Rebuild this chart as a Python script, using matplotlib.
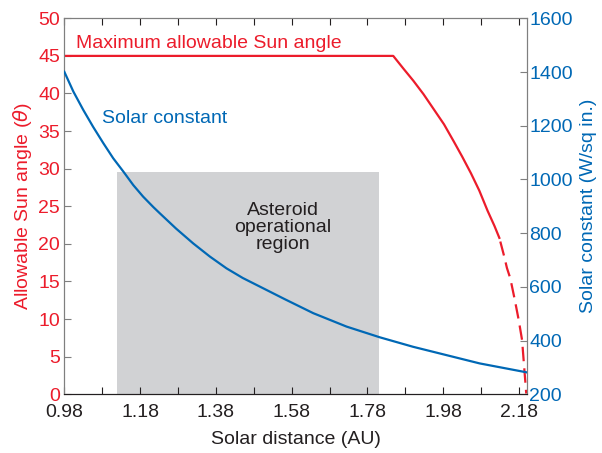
import matplotlib
matplotlib.use('Agg')
import matplotlib.pyplot as plt

plt.rcParams['font.family'] = ['Liberation Sans', 'DejaVu Sans']

RED = '#ec1c2b'
BLUE = '#0068b5'
GRAY_BOX = '#d1d2d4'
TEXT = '#231f20'
SPINE = '#7f7f7f'
FS = 14

# max allowable sun angle (deg), solid part then dashed extrapolation
angle_x_solid = [0.98, 1.848, 1.875, 1.901, 1.928, 1.955, 1.982, 2.008,
                 2.030, 2.053, 2.075, 2.097, 2.115, 2.128]
angle_y_solid = [45.0, 45.0, 43.3, 41.7, 39.9, 37.9, 35.9, 33.6,
                 31.6, 29.4, 27.1, 24.4, 22.4, 20.8]
angle_x_dash = [2.128, 2.141, 2.148, 2.157, 2.169, 2.179, 2.188, 2.192, 2.199]
angle_y_dash = [20.8, 18.3, 16.8, 15.4, 12.5, 9.9, 7.2, 4.6, 0.1]

# solar constant
solar_x = [0.980, 1.004, 1.030, 1.056, 1.083, 1.109, 1.136, 1.162, 1.188,
           1.215, 1.232, 1.275, 1.320, 1.364, 1.408, 1.451, 1.496, 1.562,
           1.637, 1.725, 1.813, 1.900, 1.988, 2.076, 2.199]
solar_y = [1401, 1327, 1259, 1196, 1135, 1079, 1029, 979, 936,
           897, 874, 817, 762, 713, 669, 633, 601, 554,
           502, 452, 412, 377, 346, 315, 282]

region = (1.118, 1.810, 29.5)  # x start, x end, top (left axis)

x_ticks = [0.98, 1.18, 1.38, 1.58, 1.78, 1.98, 2.18]
x_minor = [1.08, 1.28, 1.48, 1.68, 1.88, 2.08]
left_ticks = list(range(0, 51, 5))
right_ticks = list(range(200, 1601, 200))

fig = plt.figure(figsize=(6.02, 4.53), dpi=100)
ax = fig.add_axes([0.1068, 0.1296, 0.768, 0.830])
ax2 = ax.twinx()

ax.axvspan(region[0], region[1], ymin=0, ymax=region[2] / 50,
           color=GRAY_BOX, lw=0, zorder=0)

ax.plot(angle_x_solid, angle_y_solid, color=RED, lw=1.6, zorder=3)
ax.plot(angle_x_dash, angle_y_dash, color=RED, lw=1.6, zorder=3,
        linestyle=(8, (6.5, 3.2)))
ax2.plot(solar_x, solar_y, color=BLUE, lw=1.6, zorder=3)

ax.set_xlim(0.98, 2.20)
ax.set_ylim(0, 50)
ax2.set_ylim(200, 1600)

ax.set_xticks(x_ticks)
ax.set_xticklabels([f'{v:.2f}' for v in x_ticks])
ax.set_xticks(x_minor, minor=True)
ax.set_yticks(left_ticks)
ax2.set_yticks(right_ticks)

ax.tick_params(axis='x', which='both', direction='in', top=True,
               length=5, width=0.8, colors=TEXT, labelsize=FS, pad=7)
ax.tick_params(axis='y', direction='in', length=5, width=0.8,
               color=SPINE, labelcolor=RED, labelsize=FS, pad=3)
ax2.tick_params(axis='y', direction='in', length=5, width=0.8,
                color=SPINE, labelcolor=BLUE, labelsize=FS, pad=2)

for a in (ax, ax2):
    for side in ('left', 'right', 'top'):
        a.spines[side].set_color(SPINE)
    a.spines['bottom'].set_color(TEXT)

ax.set_xlabel('Solar distance (AU)', fontsize=FS, color=TEXT, labelpad=7)
ax.set_ylabel(r'Allowable Sun angle ($\theta$)', fontsize=FS, color=RED,
              labelpad=3)
ax2.set_ylabel('Solar constant (W/sq in.)', fontsize=FS, color=BLUE,
               labelpad=5)

ax.text(1.011, 46.7, 'Maximum allowable Sun angle', color=RED,
        fontsize=FS, va='center', ha='left')
ax.text(1.079, 36.7, 'Solar constant', color=BLUE, fontsize=FS,
        va='center', ha='left')
ax.text(1.557, 22.2, 'Asteroid\noperational\nregion', color=TEXT,
        fontsize=FS, va='center', ha='center', linespacing=1.0)

fig.savefig('out.png', dpi=100)
